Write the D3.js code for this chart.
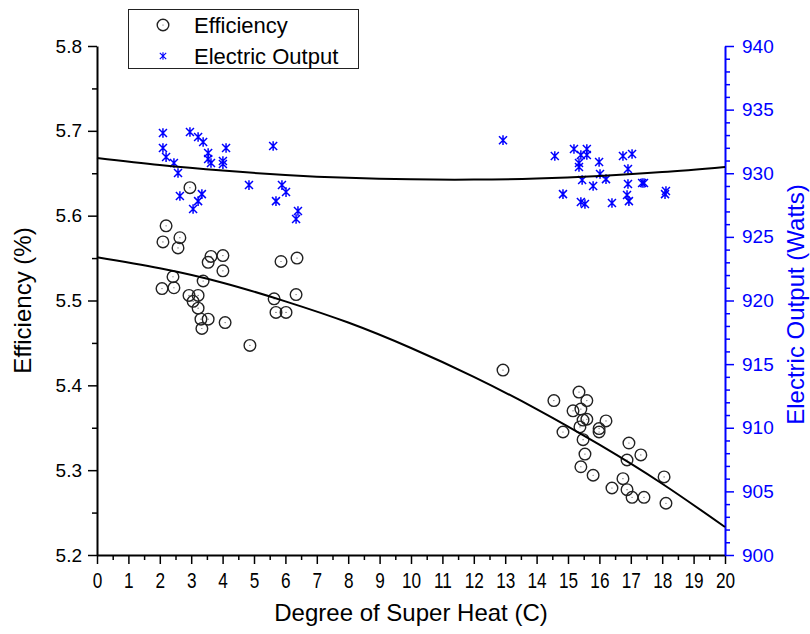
<!DOCTYPE html>
<html>
<head>
<meta charset="utf-8">
<script src="https://cdn.jsdelivr.net/npm/d3@7"></script>
<style>
  body { margin: 0; background: #fff; }
  text { font-family: "Liberation Sans", Arial, sans-serif; }
</style>
</head>
<body>
<div id="content"></div>
<script>
'use strict';
//////////////////// input data
// Efficiency (%) vs degree of super heat (C)
const effX = [2.20, 2.64, 2.10, 2.58, 3.63, 4.01, 3.54, 4.01, 2.42, 3.38, 2.07, 2.45, 2.93, 3.22,
              3.06, 3.22, 3.31, 3.54, 3.34, 4.08, 4.87, 5.86, 6.37, 6.34, 5.64, 5.70, 6.02, 2.96,
              12.93, 15.35, 14.55, 15.60, 15.16, 15.41, 15.48, 15.60, 16.21, 15.38, 15.99, 15.99,
              14.84, 15.48, 16.94, 17.32, 15.54, 16.88, 15.41, 15.80, 18.06, 16.75, 16.40, 16.88,
              17.04, 17.42, 18.12];
const effY = [5.588, 5.574, 5.569, 5.562, 5.552, 5.553, 5.545, 5.535, 5.528, 5.523, 5.514, 5.515, 5.506, 5.506,
              5.499, 5.491, 5.478, 5.478, 5.467, 5.474, 5.447, 5.546, 5.550, 5.507, 5.502, 5.486, 5.486, 5.633,
              5.418, 5.392, 5.382, 5.382, 5.370, 5.372, 5.359, 5.360, 5.358, 5.351, 5.349, 5.345,
              5.345, 5.336, 5.332, 5.318, 5.319, 5.312, 5.304, 5.294, 5.292, 5.290, 5.279, 5.277,
              5.268, 5.268, 5.261];

// Electric output (Watts)
const powX = [2.10, 2.96, 3.22, 3.38, 2.10, 4.11, 5.61, 2.20, 3.54, 3.54, 3.63, 4.01, 4.01, 2.45,
              2.58, 4.84, 5.89, 6.02, 2.64, 3.34, 3.22, 3.06, 5.70, 6.40, 6.34,
              12.93, 15.19, 15.60, 15.41, 15.60, 14.58, 17.04, 16.75, 15.35, 15.99, 15.35, 16.91,
              16.02, 16.21, 15.45, 15.80, 16.91, 17.36, 17.42, 14.84, 18.12, 18.09, 16.88, 16.94,
              15.41, 15.54, 16.40];
const powY = [933.16, 933.24, 932.85, 932.45, 931.98, 931.98, 932.14, 931.27, 931.59, 931.12, 930.80, 930.96, 930.72, 930.80,
              930.02, 929.07, 929.07, 928.52, 928.21, 928.36, 927.81, 927.19, 927.81, 927.03, 926.40,
              932.60, 931.90, 931.90, 931.43, 931.43, 931.35, 931.51, 931.35, 930.80, 930.88, 930.49, 930.33,
              929.94, 929.54, 929.47, 929.00, 929.15, 929.23, 929.23, 928.36, 928.60, 928.36, 928.29, 927.81,
              927.74, 927.58, 927.66];

// fitted curves
const fitX   = [0, 2, 4, 6, 8, 10, 12, 14, 16, 18, 20];
const effFit = [5.551, 5.538, 5.521, 5.499, 5.474, 5.444, 5.410, 5.372, 5.330, 5.284, 5.233];
const powFit = [931.20, 930.65, 930.21, 929.87, 929.64, 929.52, 929.50, 929.59, 929.79, 930.09, 930.50];

// ticks
const xTicks = d3.range(0, 21, 1);
const effTicks = [5.2, 5.3, 5.4, 5.5, 5.6, 5.7, 5.8];
const powTicks = [900, 905, 910, 915, 920, 925, 930, 935, 940];


//////////////////// drawing area
const W = 810, H = 634;
const margin = { left: 97, right: 85, top: 46, bottom: 79 };
const iW = W - margin.left - margin.right;
const iH = H - margin.top - margin.bottom;
const BLUE = '#0000ff';

const xScale = d3.scaleLinear().domain([0, 20]).range([0, iW]);
const yEff = d3.scaleLinear().domain([5.2, 5.8]).range([iH, 0]);
const yPow = d3.scaleLinear().domain([900, 940]).range([iH, 0]);

const svg = d3.select("#content")
    .append("svg")
        .attr("width", W)
        .attr("height", H);

svg.append("rect").attr("width", W).attr("height", H).attr("fill", "#fff");

const diagram = svg.append("g")
    .attr("transform", "translate(" + margin.left + "," + margin.top + ")");


//////////////////// axes
function styleAxis(g, color, fontSize) {
    g.select(".domain").attr("stroke", color).attr("stroke-width", 2);
    g.selectAll(".tick line").attr("stroke", color).attr("stroke-width", 1.5);
    g.selectAll(".tick text")
        .attr("fill", color)
        .style("font-size", fontSize + "px")
        .style("font-family", '"Liberation Sans", Arial, sans-serif');
}

// x axis: minor ticks then major
const xMinor = diagram.append("g")
    .attr("transform", "translate(0," + iH + ")")
    .call(d3.axisBottom(xScale).tickValues(d3.range(0.5, 20, 1)).tickSize(5).tickSizeOuter(0).tickFormat(""));
xMinor.select(".domain").remove();
xMinor.selectAll(".tick line").attr("stroke", "#000").attr("stroke-width", 1.5);

const xAxis = diagram.append("g")
    .attr("transform", "translate(0," + iH + ")")
    .call(d3.axisBottom(xScale).tickValues(xTicks).tickSize(9).tickSizeOuter(0).tickPadding(6).tickFormat(d3.format("d")));
styleAxis(xAxis, "#000", 20);
// the x labels in the original are drawn condensed
xAxis.selectAll(".tick text")
    .attr("y", 0)
    .attr("dy", 0)
    .attr("transform", "translate(0,33) scale(0.86,1.12)");

// left axis
const yMinor = diagram.append("g")
    .call(d3.axisLeft(yEff).tickValues(d3.range(5.25, 5.8, 0.1)).tickSize(5).tickSizeOuter(0).tickFormat(""));
yMinor.select(".domain").remove();
yMinor.selectAll(".tick line").attr("stroke", "#000").attr("stroke-width", 1.5);

const yAxis = diagram.append("g")
    .call(d3.axisLeft(yEff).tickValues(effTicks).tickSize(9).tickSizeOuter(0).tickPadding(6).tickFormat(d3.format(".1f")));
styleAxis(yAxis, "#000", 19);

// right axis
const pMinor = diagram.append("g")
    .attr("transform", "translate(" + iW + ",0)")
    .call(d3.axisRight(yPow).tickValues(d3.range(901, 940, 1).filter(v => v % 5 !== 0)).tickSize(5).tickSizeOuter(0).tickFormat(""));
pMinor.select(".domain").remove();
pMinor.selectAll(".tick line").attr("stroke", BLUE).attr("stroke-width", 1.5);

const pAxis = diagram.append("g")
    .attr("transform", "translate(" + iW + ",0)")
    .call(d3.axisRight(yPow).tickValues(powTicks).tickSize(9).tickSizeOuter(0).tickPadding(8).tickFormat(d3.format("d")));
styleAxis(pAxis, BLUE, 19);

// axis titles
svg.append("text")
    .attr("x", margin.left + iW / 2).attr("y", 621)
    .attr("text-anchor", "middle")
    .style("font-size", "24px")
    .text("Degree of Super Heat (C)");

svg.append("text")
    .attr("transform", "translate(31," + (margin.top + iH / 2) + ") rotate(-90)")
    .attr("text-anchor", "middle")
    .style("font-size", "24px")
    .text("Efficiency (%)");

svg.append("text")
    .attr("transform", "translate(804," + (margin.top + iH / 2 + 4) + ") rotate(-90)")
    .attr("text-anchor", "middle")
    .attr("fill", BLUE)
    .style("font-size", "24px")
    .text("Electric Output (Watts)");


//////////////////// marks
const starPath = "M-4,-4L4,4M-4,4L4,-4M0,-4.8L0,4.8";

function drawCircle(g, x, y) {
    g.append("circle").attr("cx", x).attr("cy", y).attr("r", 5.8)
        .attr("fill", "none").attr("stroke", "#222").attr("stroke-width", 1.4);
    g.append("circle").attr("cx", x).attr("cy", y).attr("r", 0.6).attr("fill", "#555");
}

const effPts = diagram.append("g");
effX.forEach((v, i) => drawCircle(effPts, xScale(v), yEff(effY[i])));

diagram.append("g").selectAll("path")
    .data(powX.map((v, i) => [v, powY[i]]))
    .enter()
    .append("path")
    .attr("d", starPath)
    .attr("transform", d => "translate(" + xScale(d[0]) + "," + yPow(d[1]) + ")")
    .attr("stroke", BLUE)
    .attr("stroke-width", 1.5)
    .attr("fill", "none");

// fit curves
const effLine = d3.line().x((d, i) => xScale(fitX[i])).y(d => yEff(d)).curve(d3.curveNatural);
const powLine = d3.line().x((d, i) => xScale(fitX[i])).y(d => yPow(d)).curve(d3.curveNatural);

diagram.append("path").attr("d", effLine(effFit))
    .attr("fill", "none").attr("stroke", "#000").attr("stroke-width", 2);
diagram.append("path").attr("d", powLine(powFit))
    .attr("fill", "none").attr("stroke", "#000").attr("stroke-width", 2);


//////////////////// legend
const legend = svg.append("g");
legend.append("rect")
    .attr("x", 128.5).attr("y", 9.5).attr("width", 230).attr("height", 59)
    .attr("fill", "#fff").attr("stroke", "#222").attr("stroke-width", 1);
drawCircle(legend, 163, 25);
legend.append("path").attr("d", starPath).attr("transform", "translate(163,56) scale(0.8)")
    .attr("stroke", BLUE).attr("stroke-width", 1.4).attr("fill", "none");
legend.append("text").attr("x", 194).attr("y", 33).style("font-size", "22px").text("Efficiency");
legend.append("text").attr("x", 194).attr("y", 64).style("font-size", "22px").text("Electric Output");
</script>
</body>
</html>
